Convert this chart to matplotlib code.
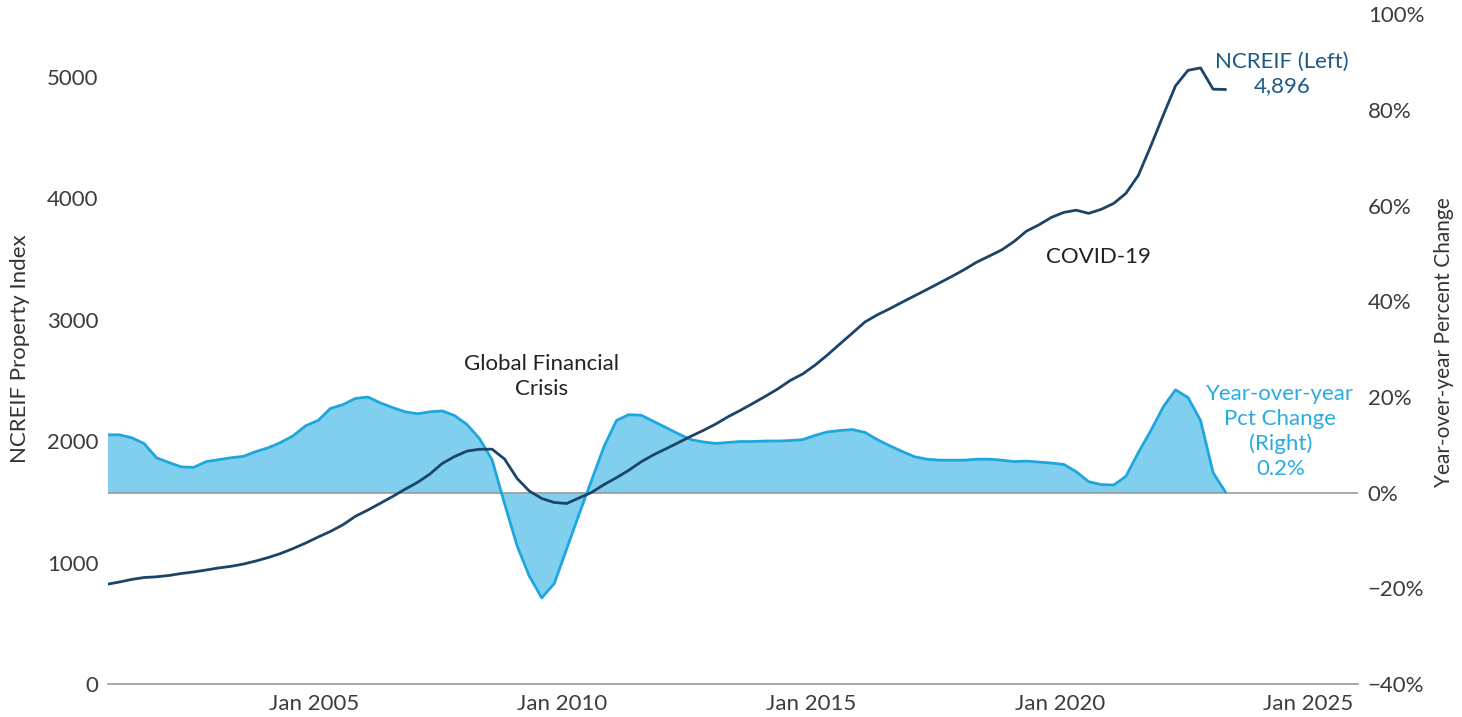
import numpy as np
import pandas as pd
import matplotlib
matplotlib.use("Agg")
import matplotlib.pyplot as plt
import matplotlib.dates as mdates
from matplotlib.ticker import FuncFormatter

plt.rcParams['font.family'] = ['Lato', 'DejaVu Sans']

# quarterly observations
dates = pd.date_range("2000-11-01", periods=91, freq="3MS")

ncreif = [821, 840, 861, 877, 883, 894, 910, 923, 939, 956,
          969, 988, 1013, 1042, 1075, 1116, 1161, 1211, 1256, 1311,
          1381, 1433, 1487, 1544, 1604, 1661, 1728, 1816, 1874, 1919,
          1933, 1934, 1853, 1693, 1590, 1528, 1495, 1487, 1532, 1577,
          1642, 1699, 1759, 1830, 1888, 1938, 1988, 2040, 2089, 2142,
          2201, 2255, 2312, 2371, 2430, 2500, 2554, 2628, 2710, 2801,
          2891, 2982, 3040, 3091, 3145, 3198, 3249, 3303, 3357, 3414,
          3474, 3524, 3575, 3645, 3729, 3781, 3843, 3884, 3902, 3876,
          3909, 3958, 4040, 4189, 4432, 4687, 4926, 5054, 5074, 4899,
          4896]

yoy = [12.1, 12.1, 11.5, 10.3, 7.3, 6.3, 5.4, 5.3, 6.5, 6.9,
       7.3, 7.6, 8.6, 9.4, 10.5, 11.9, 14.0, 15.1, 17.6, 18.4,
       19.7, 20.0, 18.8, 17.8, 16.9, 16.5, 16.9, 17.1, 16.1, 14.2,
       11.3, 6.9, -2.3, -11.1, -17.4, -22.0, -19.0, -11.7, -4.6, 2.5,
       9.6, 15.1, 16.3, 16.2, 14.9, 13.6, 12.3, 11.1, 10.6, 10.3,
       10.5, 10.7, 10.7, 10.8, 10.8, 10.9, 11.1, 12.0, 12.7, 13.0,
       13.2, 12.6, 11.1, 9.8, 8.6, 7.5, 7.0, 6.8, 6.8, 6.8,
       7.0, 7.0, 6.8, 6.5, 6.6, 6.4, 6.2, 5.9, 4.4, 2.3,
       1.7, 1.6, 3.4, 8.4, 13.0, 18.0, 21.5, 19.9, 15.1, 4.2,
       0.2]

left_ticks = [0, 1000, 2000, 3000, 4000, 5000]
right_ticks = [-40, -20, 0, 20, 40, 60, 80, 100]

navy = '#1b4469'
sky = '#1ea6de'
fill_col = '#80cfee'
txt = '#3c3c3c'

fig = plt.figure(figsize=(14.62, 7.17), dpi=100)
ax = fig.add_axes([0.0739, 0.046, 0.855, 0.934])
ax2 = ax.twinx()

ax2.fill_between(dates, yoy, 0, color=fill_col, lw=0)
ax2.plot(dates, yoy, color=sky, lw=2)
ax2.axhline(0, color='#9a9a9a', lw=1.2, zorder=1)
ax.plot(dates, ncreif, color=navy, lw=2)

# index line sits above the shaded area
ax.set_zorder(ax2.get_zorder() + 1)
ax.patch.set_visible(False)

ax.set_xlim(pd.Timestamp("2000-11-10"), pd.Timestamp("2026-01-01"))
ax.set_ylim(0, 5515)
ax2.set_ylim(-40, 100)

ax.set_yticks(left_ticks)
ax2.set_yticks(right_ticks)
ax2.yaxis.set_major_formatter(FuncFormatter(lambda v, p: f"{v:.0f}%".replace('-', '\u2212')))
ax.xaxis.set_major_locator(mdates.YearLocator(5))
ax.xaxis.set_major_formatter(mdates.DateFormatter('%b %Y'))

for a in (ax, ax2):
    for s in ('top', 'left', 'right'):
        a.spines[s].set_visible(False)
    a.tick_params(length=0, labelsize=16, colors=txt, pad=7)
ax2.spines['bottom'].set_visible(False)
ax.spines['bottom'].set_color('#9a9a9a')
ax.spines['bottom'].set_linewidth(1.2)

ax.set_ylabel("NCREIF Property Index", fontsize=16, color='#333333', labelpad=12)
ax2.set_ylabel("Year-over-year Percent Change", fontsize=15, color='#333333')
ax2.yaxis.set_label_coords(1.061, 0.51)

ax2.text(pd.Timestamp("2009-08-01"), 24.3, "Global Financial\nCrisis", ha='center', va='center',
         fontsize=16, color='#222222', linespacing=1.3)
ax2.text(pd.Timestamp("2020-10-15"), 49.2, "COVID-19", ha='center', va='center',
         fontsize=16, color='#222222')
ax2.text(pd.Timestamp("2024-06-20"), 87.5, "NCREIF (Left)\n4,896", ha='center', va='center',
         fontsize=16, color='#1f5a84', linespacing=1.3)
ax2.text(pd.Timestamp("2024-06-10"), 12.8, "Year-over-year\nPct Change\n(Right)\n0.2%", ha='center',
         va='center', fontsize=16, color='#29abe2', linespacing=1.3)

fig.savefig("out.png", dpi=100)
